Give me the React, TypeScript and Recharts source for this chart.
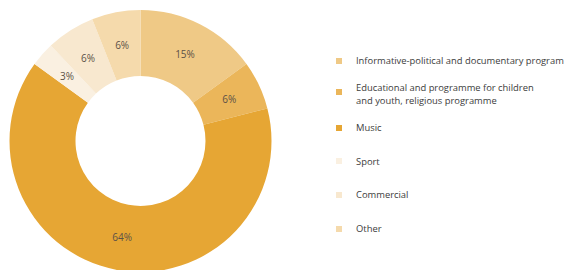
import React from "react";
import { PieChart, Pie, Cell, Legend } from "recharts";

const categories = [
  "Informative-political and documentary program",
  "Educational and programme for children and youth, religious programme",
  "Music",
  "Sport",
  "Commercial",
  "Other",
];
const legendLabels = [
  ["Informative-political and documentary program"],
  ["Educational and programme for children", "and youth, religious programme"],
  ["Music"],
  ["Sport"],
  ["Commercial"],
  ["Other"],
];
const values = [15, 6, 64, 3, 6, 6];
const colors = ["#EFC986", "#EBB65A", "#E6A634", "#FAF0E1", "#F8E8CF", "#F5DAAC"];

const data = categories.map((name, i) => ({ name, value: values[i] }));

const RAD = Math.PI / 180;
const renderLabel = (props: any) => {
  const { cx, cy, midAngle, innerRadius, outerRadius, value } = props;
  const r = (innerRadius + outerRadius) / 2;
  const x = cx + r * Math.cos(-midAngle * RAD);
  const y = cy + r * Math.sin(-midAngle * RAD);
  return (
    <text
      x={x}
      y={y}
      fill="#5b5147"
      fontSize={10}
      fontFamily="'Open Sans', sans-serif"
      textAnchor="middle"
      dominantBaseline="central"
    >
      {value}%
    </text>
  );
};

const renderLegend = () => (
  <div style={{ fontFamily: "'Open Sans', sans-serif", fontSize: 9.4, color: "#3c3c3c" }}>
    {legendLabels.map((lines, i) => (
      <div
        key={i}
        style={{
          position: "absolute",
          left: 0,
          top: 54 + 33.6 * i - (lines.length - 1) * 6.5,
          display: "flex",
          alignItems: "center",
          height: lines.length * 13,
          whiteSpace: "nowrap",
        }}
      >
        <div style={{ width: 6, height: 6, background: colors[i], marginRight: 14, marginTop: lines.length > 1 ? -4 : 0 }} />
        <div style={{ lineHeight: "13px" }}>
          {lines.map((l, j) => (
            <div key={j}>{l}</div>
          ))}
        </div>
      </div>
    ))}
  </div>
);

export default function App() {
  return (
    <>
      <style>{"body{margin:0;overflow:hidden}"}</style>
      <PieChart width={569} height={270} margin={{ top: 0, right: 0, bottom: 0, left: 0 }}>
        <Pie
          data={data}
          dataKey="value"
          cx={140.5}
          cy={141}
          innerRadius={65}
          outerRadius={131}
          startAngle={90}
          endAngle={-270}
          stroke="none"
          label={renderLabel}
          labelLine={false}
          isAnimationActive={false}
        >
          {data.map((d, i) => (
            <Cell key={i} fill={colors[i]} />
          ))}
        </Pie>
        <Legend
          content={renderLegend}
          wrapperStyle={{ position: "absolute", left: 336, top: 0, width: 233, height: 270, overflow: "visible" }}
        />
      </PieChart>
    </>
  );
}
